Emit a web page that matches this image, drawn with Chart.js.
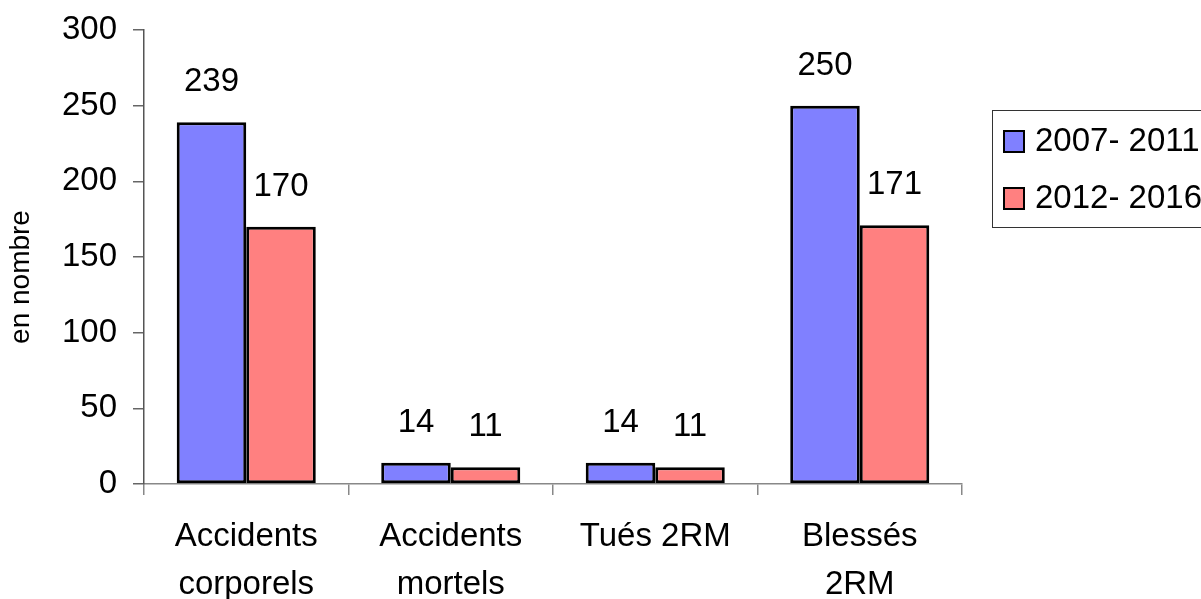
<!DOCTYPE html>
<html lang="fr">
<head>
<meta charset="utf-8">
<title>Accidents 2RM</title>
<script src="https://cdn.jsdelivr.net/npm/chart.js@4/dist/chart.umd.min.js"></script>
<style>
  html, body { margin: 0; padding: 0; background: #fff; }
  #wrap { width: 1201px; height: 599px; position: relative; }
</style>
</head>
<body>
<div id="wrap"><canvas id="c" width="1201" height="599"></canvas></div>
<script>
// Categories, series and axis ticks
const categories = [
  ['Accidents', 'corporels'],
  ['Accidents', 'mortels'],
  ['Tués 2RM'],
  ['Blessés', '2RM']
];
const seriesNames = ['2007- 2011', '2012- 2016'];
const values2007_2011 = [239, 14, 14, 250];
const values2012_2016 = [170, 11, 11, 171];
const yTicks = [0, 50, 100, 150, 200, 250, 300];
const yTitle = 'en nombre';

const FONT = 'Arial, "Liberation Sans", sans-serif';
const colors = ['#8080FF', '#FF8080'];

// Value labels above each bar
const valueLabels = {
  id: 'valueLabels',
  afterDatasetsDraw(chart) {
    const ctx = chart.ctx;
    ctx.save();
    ctx.font = '33px ' + FONT;
    ctx.fillStyle = '#000';
    ctx.textAlign = 'center';
    ctx.textBaseline = 'middle';
    chart.data.datasets.forEach((ds, i) => {
      chart.getDatasetMeta(i).data.forEach((bar, j) => {
        ctx.fillText(String(ds.data[j]), bar.x, bar.y - 40);
      });
    });
    ctx.restore();
  }
};

// Rotated y-axis title
const axisTitle = {
  id: 'axisTitle',
  afterDraw(chart) {
    const ctx = chart.ctx;
    ctx.save();
    ctx.translate(21, 277);
    ctx.rotate(-Math.PI / 2);
    ctx.font = '28px ' + FONT;
    ctx.fillStyle = '#000';
    ctx.textAlign = 'center';
    ctx.textBaseline = 'middle';
    ctx.fillText(yTitle, 0, 0);
    ctx.restore();
  }
};

// Boxed legend on the right
const boxLegend = {
  id: 'boxLegend',
  afterDraw(chart) {
    const ctx = chart.ctx;
    ctx.save();
    ctx.strokeStyle = '#333';
    ctx.lineWidth = 1;
    ctx.strokeRect(992.5, 110.5, 240, 117);
    ctx.font = '33px ' + FONT;
    ctx.textBaseline = 'middle';
    ctx.textAlign = 'left';
    chart.data.datasets.forEach((ds, i) => {
      const cy = 141 + i * 57;
      ctx.fillStyle = ds.backgroundColor;
      ctx.fillRect(1004, cy - 10, 20, 21);
      ctx.lineWidth = 2;
      ctx.strokeStyle = '#000';
      ctx.strokeRect(1004, cy - 10, 20, 21);
      ctx.fillStyle = '#000';
      ctx.fillText(ds.label, 1035, cy + 1);
    });
    ctx.restore();
  }
};

new Chart(document.getElementById('c'), {
  type: 'bar',
  data: {
    labels: categories,
    datasets: [
      { label: seriesNames[0], data: values2007_2011, backgroundColor: colors[0],
        borderColor: '#000', borderWidth: 3, borderSkipped: false },
      { label: seriesNames[1], data: values2012_2016, backgroundColor: colors[1],
        borderColor: '#000', borderWidth: 3, borderSkipped: false }
    ]
  },
  options: {
    responsive: false,
    animation: false,
    devicePixelRatio: 1,
    layout: { padding: { top: 30, right: 239, bottom: 0, left: 0 } },
    datasets: { bar: { categoryPercentage: 0.68, barPercentage: 1.0 } },
    plugins: {
      legend: { display: false },
      tooltip: { enabled: false }
    },
    scales: {
      x: {
        offset: true,
        grid: { offset: true, drawOnChartArea: false, drawTicks: true, tickLength: 11, color: '#888', lineWidth: 1.5 },
        border: { color: '#888', width: 1.5 },
        ticks: { color: '#000', font: { family: FONT, size: 33, lineHeight: 1.45 }, padding: 18, maxRotation: 0, autoSkip: false },
        afterFit(s) { s.height = 115; s.paddingLeft = 0; s.paddingRight = 0; }
      },
      y: {
        min: 0, max: 300,
        afterBuildTicks(s) { s.ticks = yTicks.map(v => ({ value: v })); },
        grid: { drawOnChartArea: false, drawTicks: true, tickLength: 11, color: '#666', lineWidth: 1.5 },
        border: { color: '#555', width: 1.5 },
        ticks: { color: '#000', font: { family: FONT, size: 33 }, padding: 16 },
        afterFit(s) { s.width = 144; s.paddingTop = 0; s.paddingBottom = 0; }
      }
    }
  },
  plugins: [valueLabels, axisTitle, boxLegend]
});
</script>
</body>
</html>
